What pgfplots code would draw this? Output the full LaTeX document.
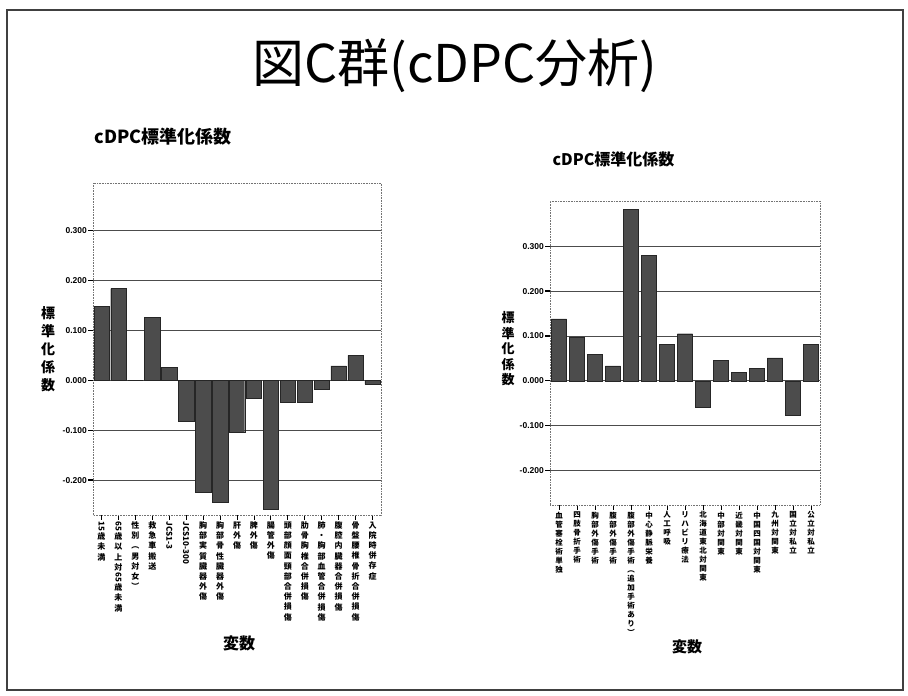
\documentclass[border=0pt]{standalone}
\usepackage{fontspec}
\usepackage{graphicx}
\usepackage{pgfplots}
\pgfplotsset{compat=1.18}
\setmainfont{Noto Sans CJK JP}
\newfontfamily\arialfont{Liberation Sans}

% vertical (tategaki) stack: CJK upright, Latin groups turned
\ExplSyntaxOn
\cs_new_protected:Npn \vtitem #1
 {
  \tl_if_single_token:nTF {#1}
   { \int_compare:nNnTF {`#1} > {255} {#1} { \rotatebox[origin=c]{-90}{#1} } }
   { \rotatebox[origin=c]{-90}{#1} }
 }
\cs_new_protected:Npn \vt #1
 {
  \seq_clear:N \l_tmpa_seq
  \tl_map_inline:nn {#1} { \seq_put_right:Nn \l_tmpa_seq { \vtitem {##1} } }
  \seq_use:Nn \l_tmpa_seq { \\ }
 }
\ExplSyntaxOff

\definecolor{barfill}{RGB}{76,76,76}

\pgfplotsset{
  cdpc/.style={
    scale only axis,
    ybar,
    enlarge x limits=false,
    axis line style={black!55, densely dotted, line width=0.6pt},
    tick pos=left,
    tick align=outside,
    major tick length=5pt,
    ytick={-0.2,-0.1,0,0.1,0.2,0.3},
    ytick style={black, line width=1.3pt},
    xtick style={black, line width=0.8pt},
    ymajorgrids,
    major grid style={black!70, line width=0.7pt},
    yticklabel style={font=\arialfont\bfseries\fontsize{8.5}{10}\selectfont, inner sep=1pt,
      /pgf/number format/.cd, fixed, fixed zerofill, precision=3, assume math mode=true},
    xticklabel style={anchor=north, align=center, inner sep=1.5pt},
  },
}

\begin{document}
\begin{tikzpicture}
\path[use as bounding box, fill=white] (0pt,0pt) rectangle (908pt,696pt);
\draw[line width=1.8pt, black!75] (7pt,6pt) rectangle (903pt,686pt);

\node[font=\fontsize{52}{56}\selectfont] at (455pt,630pt) {図C群(cDPC分析)};

% ---- left chart
\node[anchor=west, font=\bfseries\fontsize{18}{19}\selectfont] at (91pt,559pt) {cDPC標準化係数};
\node[align=center, font=\bfseries\fontsize{14}{18}\selectfont] at (48pt,347pt) {\vt{標準化係数}};
\node[font=\bfseries\fontsize{16}{18}\selectfont] at (239pt,53pt) {変数};

\begin{axis}[cdpc,
  at={(93pt,181pt)}, anchor=south west,
  width=288pt, height=332pt,
  xmin=-0.5, xmax=16.5, ymin=-0.270, ymax=0.396,
  bar width=15.4pt,
  xtick={0,...,16},
  xticklabel style={font=\bfseries\fontsize{8}{10.2}\selectfont},
  xticklabels={
    {\vt{{15}歳未満}},
    {\vt{{65}歳以上対{65}歳未満}},
    {\vt{性別︵男対女︶}},
    {\vt{救急車搬送}},
    {\vt{{JCS1-3}}},
    {\vt{{JCS10-300}}},
    {\vt{胸部実質臓器外傷}},
    {\vt{胸部骨性臓器外傷}},
    {\vt{肝外傷}},
    {\vt{脾外傷}},
    {\vt{腸管外傷}},
    {\vt{頭部顔面頸部合併損傷}},
    {\vt{肋骨胸椎合併損傷}},
    {\vt{肺・胸部血管合併損傷}},
    {\vt{腹腔内臓器合併損傷}},
    {\vt{骨盤腰椎骨折合併損傷}},
    {\vt{入院時併存症}}},
]
\addplot[fill=barfill, draw=black!85, line width=0.4pt] coordinates {
  (0,0.149) (1,0.184) (2,0.000) (3,0.126) (4,0.026) (5,-0.082)
  (6,-0.225) (7,-0.244) (8,-0.104) (9,-0.035) (10,-0.258) (11,-0.043)
  (12,-0.043) (13,-0.017) (14,0.029) (15,0.050) (16,-0.008)};
\end{axis}

% ---- right chart
\node[anchor=west, font=\bfseries\fontsize{16}{17}\selectfont] at (549pt,537pt) {cDPC標準化係数};
\node[align=center, font=\bfseries\fontsize{13}{15.5}\selectfont] at (508pt,347pt) {\vt{標準化係数}};
\node[font=\bfseries\fontsize{15}{17}\selectfont] at (687pt,49pt) {変数};

\begin{axis}[cdpc,
  at={(550pt,191pt)}, anchor=south west,
  width=270pt, height=304pt,
  xmin=-0.5, xmax=14.5, ymin=-0.277, ymax=0.401,
  bar width=15.2pt,
  xtick={0,...,14},
  xticklabel style={font=\bfseries\fontsize{7.5}{9}\selectfont},
  xticklabels={
    {\vt{血管塞栓術単独}},
    {\vt{四肢骨折手術}},
    {\vt{胸部外傷手術}},
    {\vt{腹部外傷手術}},
    {\vt{腹部外傷手術︵追加手術あり︶}},
    {\vt{中心静脈栄養}},
    {\vt{人工呼吸}},
    {\vt{リハビリ療法}},
    {\vt{北海道東北対関東}},
    {\vt{中部対関東}},
    {\vt{近畿対関東}},
    {\vt{中国四国対関東}},
    {\vt{九州対関東}},
    {\vt{国立対私立}},
    {\vt{公立対私立}}},
]
\addplot[fill=barfill, draw=black!85, line width=0.4pt] coordinates {
  (0,0.138) (1,0.097) (2,0.059) (3,0.033) (4,0.382) (5,0.280)
  (6,0.081) (7,0.105) (8,-0.058) (9,0.045) (10,0.019) (11,0.027)
  (12,0.051) (13,-0.077) (14,0.082)};
\end{axis}
\end{tikzpicture}
\end{document}
